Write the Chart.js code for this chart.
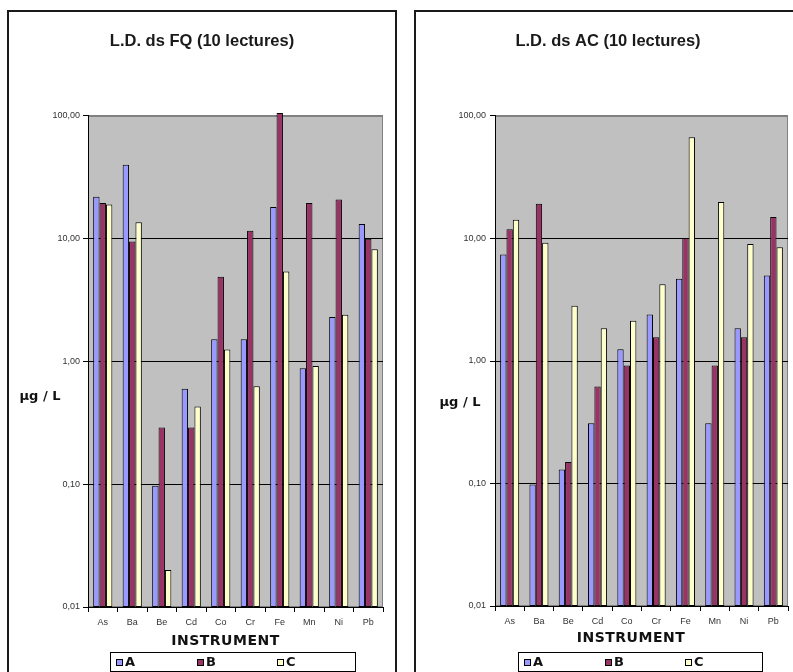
<!DOCTYPE html>
<html>
<head>
<meta charset="utf-8">
<script src="https://cdn.jsdelivr.net/npm/chart.js@4/dist/chart.umd.min.js"></script>
<style>
  body { margin: 0; background: #fff; width: 793px; height: 672px; overflow: hidden; position: relative; }
  .frame { position: absolute; border: 2px solid #1a1a1a; }
  canvas { position: absolute; top: 0; }
</style>
</head>
<body>
<div class="frame" style="left:7px; top:10px; width:386px; height:700px;"></div>
<div class="frame" style="left:414px; top:10px; width:400px; height:700px;"></div>
<canvas id="fq" width="400" height="672" style="left:0px"></canvas>
<canvas id="ac" width="393" height="672" style="left:400px"></canvas>
<script>
const categories = ['As', 'Ba', 'Be', 'Cd', 'Co', 'Cr', 'Fe', 'Mn', 'Ni', 'Pb'];
const seriesNames = ['A', 'B', 'C'];
const yTicks = [0.01, 0.1, 1, 10, 100];
const yTickLabels = ['0,01', '0,10', '1,00', '10,00', '100,00'];

// L.D. ds FQ
const fqA = [22, 40, 0.097, 0.60, 1.52, 1.52, 18.1, 0.88, 2.3, 13.2];
const fqB = [19.6, 9.5, 0.29, 0.29, 4.9, 11.6, 106, 19.6, 20.9, 10.0];
const fqC = [19.0, 13.6, 0.02, 0.43, 1.25, 0.63, 5.4, 0.92, 2.4, 8.2];

// L.D. ds AC
const acA = [7.4, 0.098, 0.13, 0.31, 1.25, 2.4, 4.7, 0.31, 1.85, 5.0];
const acB = [11.9, 19.2, 0.15, 0.62, 0.92, 1.56, 10.1, 0.92, 1.56, 15.0];
const acC = [14.2, 9.25, 2.83, 1.85, 2.13, 4.23, 67, 19.9, 9.0, 8.5];

const colors = ['#9999ff', '#993366', '#ffffcc'];

const panelPlugin = {
    id: 'panel',
    beforeDraw(chart) {
        const { ctx, chartArea: a } = chart;
        ctx.save();
        ctx.fillStyle = '#c0c0c0';
        ctx.fillRect(a.left, a.top, a.right - a.left, a.bottom - a.top);
        ctx.strokeStyle = '#808080';
        ctx.lineWidth = 1;
        ctx.strokeRect(a.left + 0.5, a.top + 0.5, a.right - a.left - 1, a.bottom - a.top - 1);
        ctx.restore();
    },
    afterDraw(chart, args, opts) {
        const ctx = chart.ctx;
        ctx.save();
        ctx.fillStyle = '#111';
        ctx.textAlign = 'center';
        ctx.textBaseline = 'middle';

        // unit label, horizontal
        ctx.font = 'bold 13px "DejaVu Sans"';
        ctx.fillText('µg / L', opts.unitX, opts.unitY);

        // axis title
        ctx.font = 'bold 14px "DejaVu Sans"';
        ctx.letterSpacing = '0.5px';
        ctx.fillText(opts.xTitle, opts.xTitleX, opts.xTitleY);
        ctx.letterSpacing = '0px';

        // legend box
        const lg = opts.legend;
        ctx.fillStyle = '#fff';
        ctx.fillRect(lg.x, lg.y, lg.w, lg.h);
        ctx.strokeStyle = '#000';
        ctx.lineWidth = 1;
        ctx.strokeRect(lg.x + 0.5, lg.y + 0.5, lg.w - 1, lg.h - 1);
        const cy = lg.y + lg.h / 2;
        chart.data.datasets.forEach((ds, i) => {
            const x = lg.x + lg.items[i];
            ctx.fillStyle = ds.backgroundColor;
            ctx.fillRect(x, cy - 3, 6, 6);
            ctx.strokeStyle = '#000';
            ctx.strokeRect(x + 0.5, cy - 2.5, 6, 6);
            ctx.fillStyle = '#111';
            ctx.textAlign = 'left';
            ctx.font = 'bold 13px "DejaVu Sans"';
            ctx.fillText(ds.label, x + 9, cy + 0.5);
        });
        ctx.restore();
    }
};

function makeChart(id, title, data, lay) {
    return new Chart(document.getElementById(id), {
        type: 'bar',
        data: {
            labels: categories,
            datasets: data.map((values, i) => ({
                label: seriesNames[i],
                data: values,
                backgroundColor: colors[i],
                borderColor: '#000',
                borderWidth: 1,
                borderSkipped: false,
                categoryPercentage: 0.65,
                barPercentage: 1.0,
                clip: false
            }))
        },
        options: {
            responsive: false,
            animation: false,
            devicePixelRatio: 1,
            layout: { padding: { left: lay.padLeft, right: lay.padRight, top: 0, bottom: 0 } },
            plugins: {
                legend: { display: false },
                tooltip: { enabled: false },
                title: {
                    display: true,
                    text: title,
                    color: '#1a1a1a',
                    font: { family: '"Liberation Sans", Arial', size: 16.5, weight: 'bold', lineHeight: 1.2 },
                    padding: { top: 31.6, bottom: 64.6 }
                },
                panel: {
                    unitX: lay.unitX,
                    unitY: lay.unitY,
                    xTitle: 'INSTRUMENT',
                    xTitleX: lay.xTitleX,
                    xTitleY: lay.xTitleY,
                    legend: lay.legend
                }
            },
            scales: {
                x: {
                    offset: true,
                    grid: {
                        offset: true,
                        drawOnChartArea: false,
                        drawTicks: true,
                        tickLength: 5,
                        tickColor: '#000'
                    },
                    border: { color: '#000', width: 1 },
                    ticks: {
                        color: '#333',
                        padding: 5,
                        maxRotation: 0,
                        font: { family: '"Liberation Sans", Arial', size: 9 }
                    },
                    afterFit: scale => { scale.height = lay.xHeight; }
                },
                y: {
                    type: 'logarithmic',
                    min: 0.01,
                    max: 100,
                    afterBuildTicks: scale => { scale.ticks = yTicks.map(v => ({ value: v })); },
                    grid: {
                        color: ctx => (ctx.tick && ctx.tick.value === 100 ? '#808080' : '#000'),
                        lineWidth: 1,
                        drawTicks: true,
                        tickLength: 5,
                        tickColor: '#000'
                    },
                    border: { color: '#000', width: 1 },
                    ticks: {
                        color: '#333',
                        padding: lay.yTickPad,
                        font: { family: '"Liberation Sans", Arial', size: 9 },
                        callback: v => yTickLabels[yTicks.indexOf(v)] ?? ''
                    },
                    afterFit: scale => { scale.width = lay.yWidth; }
                }
            }
        },
        plugins: [panelPlugin]
    });
}

makeChart('fq', 'L.D. ds FQ (10 lectures)', [fqA, fqB, fqC], {
    padLeft: 21, padRight: 17, yWidth: 67, xHeight: 65, yTickPad: 3,
    unitX: 40, unitY: 397, xTitleX: 225.5, xTitleY: 641,
    legend: { x: 110, y: 652, w: 246, h: 20, items: [6, 87, 167] }
});

makeChart('ac', 'L.D. ds AC (10 lectures)', [acA, acB, acC], {
    padLeft: 28, padRight: 5, yWidth: 67, xHeight: 66, yTickPad: 4,
    unitX: 60, unitY: 403, xTitleX: 231, xTitleY: 638,
    legend: { x: 118, y: 652, w: 245, h: 20, items: [6, 87, 167] }
});
</script>
</body>
</html>
